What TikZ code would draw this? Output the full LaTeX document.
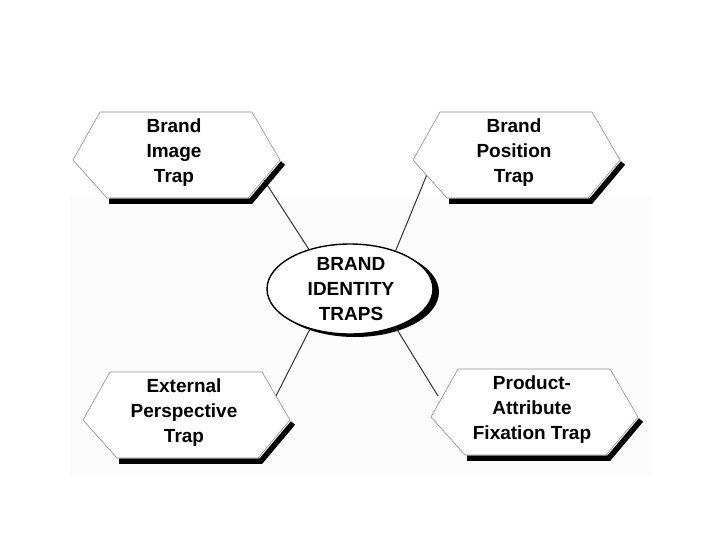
\documentclass[tikz,border=0pt]{standalone}
\usepackage{fontspec}
\setmainfont{Liberation Sans}
\usetikzlibrary{shapes.geometric}

\begin{document}
\begin{tikzpicture}[x=1pt,y=-1pt,
    trapedge/.style={draw=black!45, line width=0.6pt, fill=white},
    trapshadow/.style={line width=5.5pt, line join=miter},
    traptext/.style={align=center, inner sep=0pt, font=\bfseries\fontsize{19}{25}\selectfont},
    link/.style={draw=black!80, line width=1pt}]

  \useasboundingbox[fill=white] (0,0) rectangle (728,546);
  \fill[black!1] (70,196) rectangle (652,476);

  % centre
  \fill (355,292) ellipse [x radius=84, y radius=45];
  \node[ellipse, draw, line width=1.4pt, fill=white, minimum width=166pt, minimum height=90pt, inner sep=0pt] (core) at (350,289) {};
  \node[traptext] (core-text) at (351,289) {BRAND\\IDENTITY\\TRAPS};

  \coordinate (img-hook) at (264,180);
  \coordinate (pos-hook) at (428,172);
  \coordinate (ext-hook) at (276,396);
  \coordinate (prod-hook) at (438,396);

  \draw[link] (img-hook) -- (core.136);
  \draw[link] (pos-hook) -- (core.40);
  \draw[link] (ext-hook) -- (core.225);
  \draw[link] (prod-hook) -- (core.320);

  \foreach \cx/\cy/\n/\t in {176/160/img/{Brand\\Image\\Trap},
                            516/160/pos/{Brand\\Position\\Trap},
                            186/420/ext/{External\\Perspective\\Trap},
                            534/417/prod/{Product-\\Attribute\\Fixation Trap}}{
    \begin{scope}[shift={(\cx,\cy)}]
      \draw[trapshadow] (-67,41) -- (75,41) -- (107,3);
      \draw[trapedge] (-103,0) -- (-76,-48) -- (76,-48) -- (104,0) -- (72,38) -- (-69,38) -- cycle;
      \node[traptext] (\n) at (-2,-7) {\t};
    \end{scope}
  }

\end{tikzpicture}
\end{document}
